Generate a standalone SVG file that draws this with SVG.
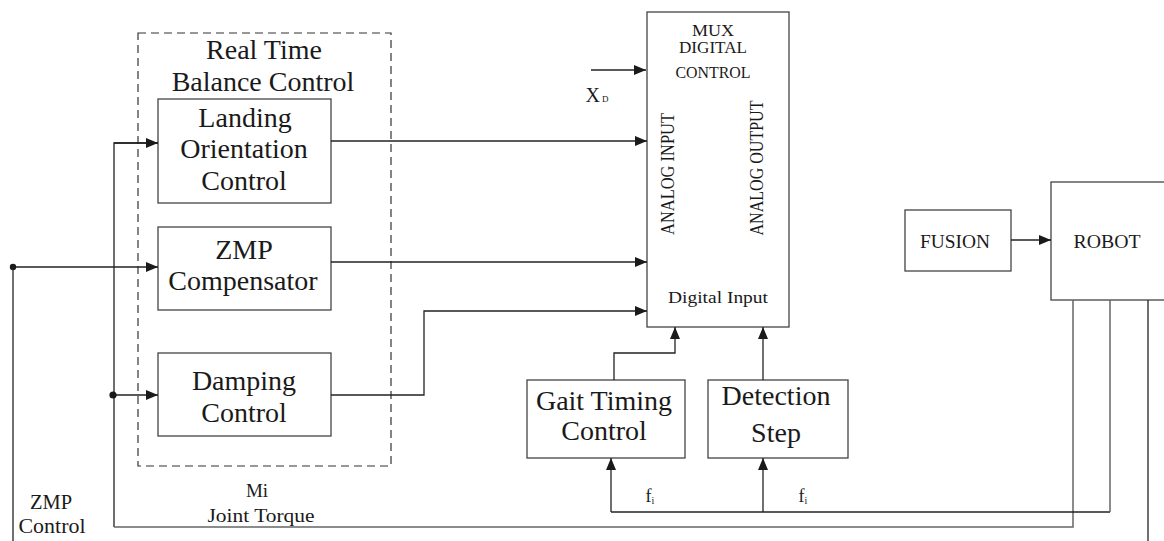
<svg xmlns="http://www.w3.org/2000/svg" width="1164" height="541" viewBox="0 0 1164 541">
<defs>
<marker id="ah" markerUnits="userSpaceOnUse" markerWidth="12" markerHeight="10" refX="12" refY="5" orient="auto">
<path d="M0,0 L12,5 L0,10 z" fill="#1a1a1a"/>
</marker>
<style>
.box{fill:#fff;stroke:#444;stroke-width:1.3}
.ln{fill:none;stroke:#222;stroke-width:1.3}
.lg{fill:none;stroke:#666;stroke-width:1.5}
.t{font-family:"Liberation Serif","Times New Roman",serif;fill:#1a1a1a;text-anchor:middle}
.big{font-size:28px}
.sm{font-size:17px}
</style>
</defs>
<rect width="1164" height="541" fill="#fff"/>

<g id="rtbc">
<rect x="138" y="33" width="253" height="433" fill="none" stroke="#333" stroke-width="1.2" stroke-dasharray="8,5"/>
<text class="t big" x="264" y="59">Real Time</text>
<text class="t big" x="263" y="91">Balance Control</text>
</g>

<g id="landing">
<rect class="box" x="158" y="99" width="173" height="104"/>
<text class="t big" x="245" y="127">Landing</text>
<text class="t big" x="244" y="158">Orientation</text>
<text class="t big" x="244" y="190">Control</text>
</g>

<g id="zmp">
<rect class="box" x="158" y="227" width="173" height="83"/>
<text class="t big" x="244" y="259">ZMP</text>
<text class="t big" x="243" y="290">Compensator</text>
</g>

<g id="damping">
<rect class="box" x="158" y="353" width="173" height="83"/>
<text class="t big" x="244" y="390">Damping</text>
<text class="t big" x="244" y="422">Control</text>
</g>

<g id="mux">
<rect class="box" x="647" y="12" width="142" height="315"/>
<text class="t sm" x="713" y="36" textLength="42" lengthAdjust="spacingAndGlyphs">MUX</text>
<text class="t sm" x="713" y="53" textLength="68" lengthAdjust="spacingAndGlyphs">DIGITAL</text>
<text class="t sm" x="713" y="78" textLength="75" lengthAdjust="spacingAndGlyphs">CONTROL</text>
<text class="t" font-size="19" transform="translate(674,174) rotate(-90)" textLength="122" lengthAdjust="spacingAndGlyphs">ANALOG INPUT</text>
<text class="t" font-size="19" transform="translate(763,168) rotate(-90)" textLength="135" lengthAdjust="spacingAndGlyphs">ANALOG OUTPUT</text>
<text class="t" font-size="17" x="718" y="303" textLength="100" lengthAdjust="spacingAndGlyphs">Digital Input</text>
</g>

<g id="gait">
<rect class="box" x="527" y="380" width="158" height="78"/>
<text class="t big" x="604" y="410">Gait Timing</text>
<text class="t big" x="604" y="440">Control</text>
</g>

<g id="detection">
<rect class="box" x="708" y="380" width="140" height="78"/>
<text class="t big" x="776" y="405">Detection</text>
<text class="t big" x="776" y="442">Step</text>
</g>

<g id="fusion">
<rect class="box" x="905" y="210" width="106" height="61"/>
<text class="t" font-size="18" x="955" y="248" textLength="70" lengthAdjust="spacingAndGlyphs">FUSION</text>
</g>

<g id="robot">
<rect class="box" x="1051" y="182" width="130" height="118"/>
<text class="t" font-size="18" x="1107" y="248" textLength="67" lengthAdjust="spacingAndGlyphs">ROBOT</text>
</g>

<g id="connectors">
<line class="ln" x1="13" y1="267" x2="158" y2="267" marker-end="url(#ah)"/>
<circle cx="13" cy="267" r="3.2" fill="#1a1a1a"/>
<line class="ln" x1="13" y1="267" x2="13" y2="541"/>
<path class="ln" d="M158,143 H114 V527"/>
<line class="ln" x1="114" y1="143" x2="158" y2="143" marker-end="url(#ah)"/>
<line class="ln" x1="113" y1="395" x2="158" y2="395" marker-end="url(#ah)"/>
<circle cx="113" cy="395" r="3.6" fill="#1a1a1a"/>
<path class="lg" d="M114,527 H1073 V300"/>
<line class="ln" x1="331" y1="141" x2="647" y2="141" marker-end="url(#ah)"/>
<line class="ln" x1="331" y1="262" x2="647" y2="262" marker-end="url(#ah)"/>
<path class="ln" d="M331,395 H424 V311 H647" marker-end="url(#ah)"/>
<line class="ln" x1="591" y1="70" x2="646" y2="70" marker-end="url(#ah)"/>
<path class="ln" d="M614,380 V353 H675 V327" marker-end="url(#ah)"/>
<line class="ln" x1="763" y1="380" x2="763" y2="327" marker-end="url(#ah)"/>
<line class="ln" x1="611" y1="512" x2="611" y2="458" marker-end="url(#ah)"/>
<line class="ln" x1="763" y1="512" x2="763" y2="458" marker-end="url(#ah)"/>
<path class="ln" d="M611,512 H1110"/>
<path class="lg" d="M1110,512 V300"/>
<line class="ln" x1="1148" y1="300" x2="1148" y2="541"/>
<line class="ln" x1="1011" y1="240" x2="1051" y2="240" marker-end="url(#ah)"/>
</g>

<g id="labels">
<text class="t" font-size="20" x="51" y="509" textLength="42" lengthAdjust="spacingAndGlyphs">ZMP</text>
<text class="t" font-size="20" x="52" y="533" textLength="67" lengthAdjust="spacingAndGlyphs">Control</text>
<text class="t" font-size="19" x="257" y="497">Mi</text>
<text class="t" font-size="19" x="261" y="522" textLength="107" lengthAdjust="spacingAndGlyphs">Joint Torque</text>
<text class="t" font-size="20" x="597" y="102">X<tspan font-size="9" dx="2">D</tspan></text>
<text class="t" font-size="18" x="650" y="502">f<tspan font-size="10" dx="0" dy="2">i</tspan></text>
<text class="t" font-size="18" x="803" y="502">f<tspan font-size="10" dx="0" dy="2">i</tspan></text>
</g>
</svg>
